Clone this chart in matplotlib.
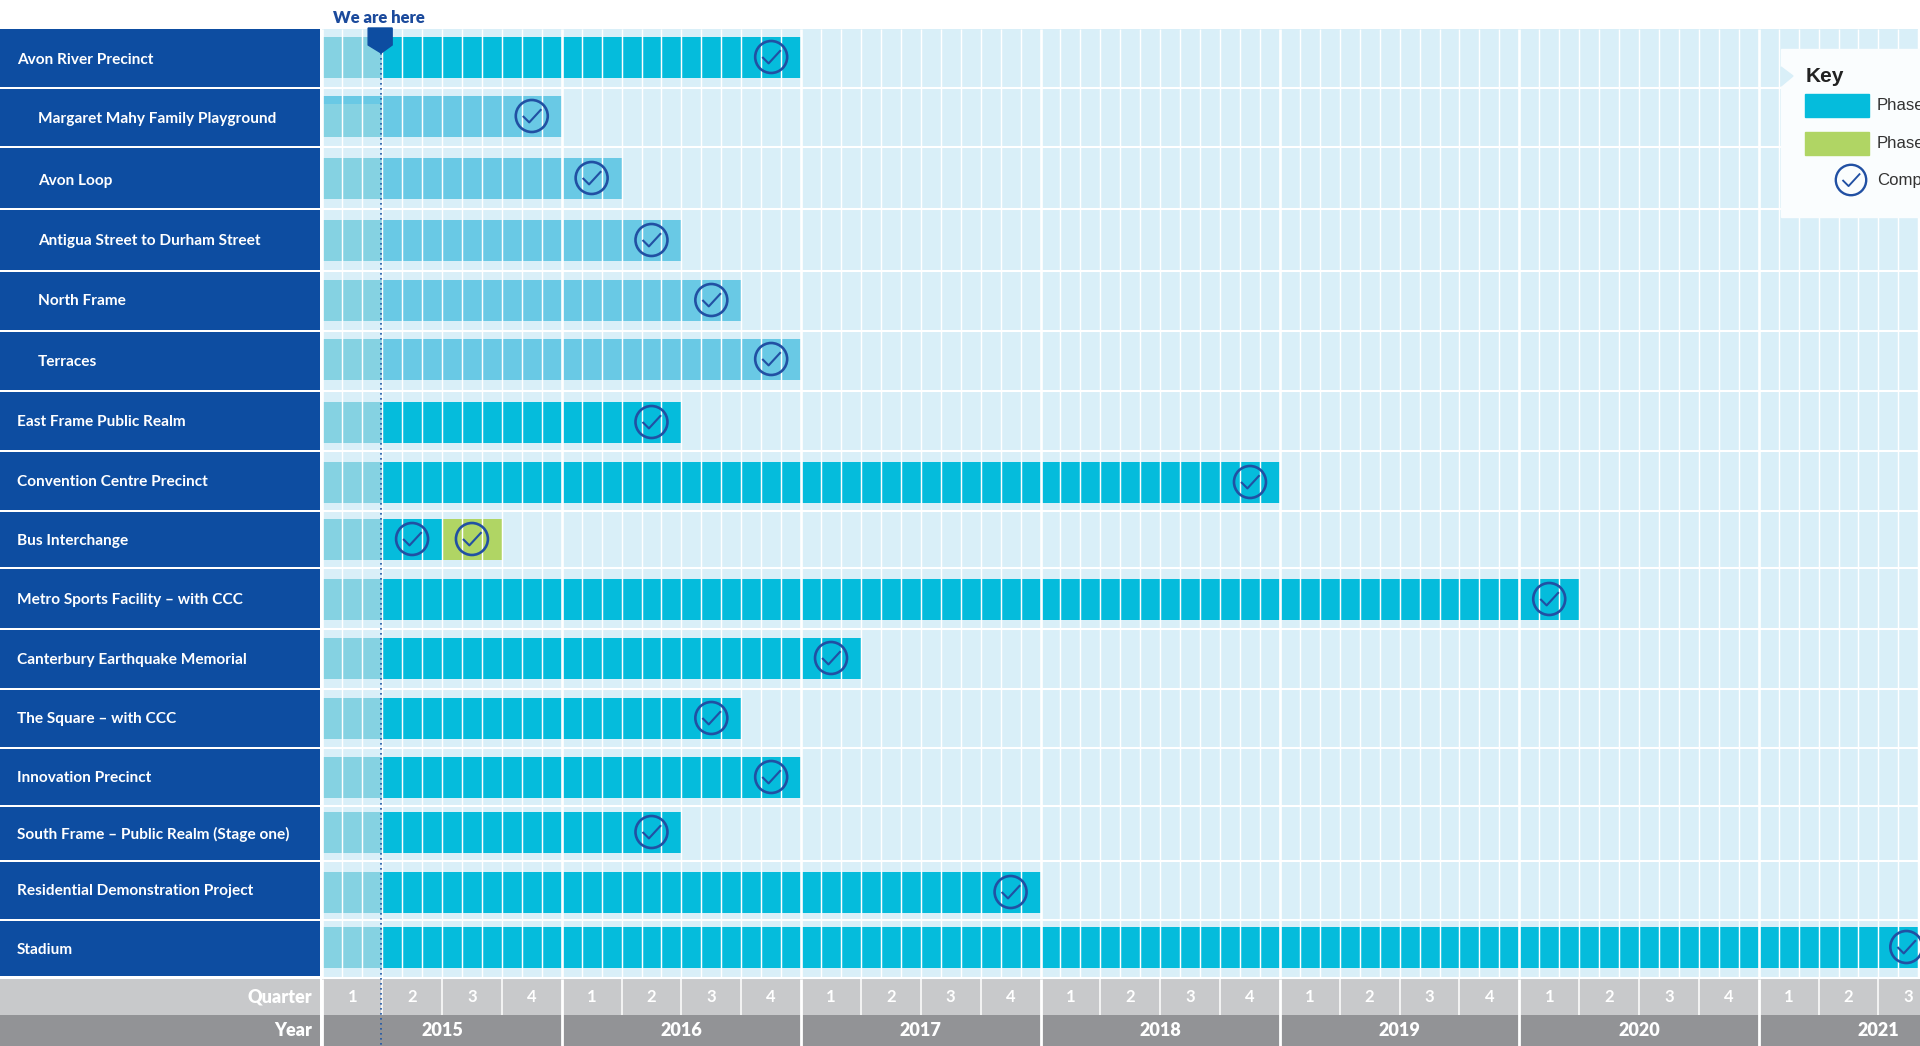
import matplotlib
matplotlib.use("Agg")
import matplotlib.pyplot as plt
from matplotlib.patches import Polygon, Rectangle
from matplotlib.path import Path

# projects, top to bottom
projects = ["Avon River Precinct", "Margaret Mahy Family Playground", "Avon Loop",
            "Antigua Street to Durham Street", "North Frame", "Terraces",
            "East Frame Public Realm", "Convention Centre Precinct", "Bus Interchange",
            "Metro Sports Facility – with CCC", "Canterbury Earthquake Memorial",
            "The Square – with CCC", "Innovation Precinct",
            "South Frame – Public Realm (Stage one)", "Residential Demonstration Project",
            "Stadium"]
is_sub = [0, 1, 1, 1, 1, 1, 0, 0, 0, 0, 0, 0, 0, 0, 0, 0]

# months since January 2015
phase1_end = [24, 12, 15, 18, 21, 24, 18, 48, 6, 63, 27, 21, 24, 18, 36, 80]
phase2_end = [0, 0, 0, 0, 0, 0, 0, 0, 9, 0, 0, 0, 0, 0, 0, 0]
complete_at = [22.5, 10.5, 13.5, 16.5, 19.5, 22.5, 16.5, 46.5, 4.5, 61.5, 25.5, 19.5, 22.5, 16.5, 34.5, 79.4]
extra_complete = [(8, 7.5)]
today = 2.95
past_end = 3

years = [2015, 2016, 2017, 2018, 2019, 2020, 2021]
quarters = [1, 2, 3, 4]
last_month = 80

# layout in figure pixels
row_edges = [29, 88, 147, 209, 271, 331, 391, 451, 511, 568, 629, 689, 748, 806, 861, 919.5, 977]
label_y = [60, 119, 181, 241, 301, 362, 422, 482, 541, 600, 660, 719, 778, 834, 891, 950]
bar_tops = [37, 96, 158, 220, 280, 339, 402, 462, 519, 579, 638, 698, 757, 812, 872, 927]
bar_h = 41
quarter_y = (979, 1015)
year_y = (1015, 1046)
x0_px = 322.3
month_px = 19.95

BLUE = "#0D4DA1"
CYAN = "#05BCDC"
SUB = "#69C9E5"
PAST = "#85D2E2"
PALE = "#D9EFF8"
GREEN = "#B0D564"
RING = "#2150A3"
GREY1 = "#C8C9CB"
GREY2 = "#929396"
LABEL_FONT = ["Lato", "DejaVu Sans"]

check = Path([(-0.42, 0.0), (-0.12, -0.3), (0.45, 0.32)], [Path.MOVETO, Path.LINETO, Path.LINETO])

fig = plt.figure(figsize=(19.2, 10.46), dpi=100)
ax = fig.add_axes([0, 0, 1, 1])
# x in months, y in pixels from the top
ax.set_xlim(-x0_px / month_px, (1920 - x0_px) / month_px)
ax.set_ylim(1046, 0)
ax.axis("off")
px = 1 / month_px


def draw_ring(x, y, size=530, lw=1.9, zorder=6):
    ax.scatter([x], [y], s=size, facecolors="none", edgecolors=RING, linewidths=lw, zorder=zorder)
    ax.scatter([x], [y], s=size * 0.36, marker=check, facecolors="none", edgecolors=RING, linewidths=lw * 0.8, zorder=zorder)


panel_left = ax.get_xlim()[0]
panel_w = 320 * px

# background grid
ax.barh(row_edges[0], last_month, height=row_edges[-1] - row_edges[0], left=0, align="edge", color=PALE, zorder=1)

for i, name in enumerate(projects):
    top, bottom = row_edges[i] + (1 if i else 0), row_edges[i + 1] - 1
    ax.barh(top, panel_w, height=bottom - top, left=panel_left, align="edge", color=BLUE, zorder=2)
    ax.text(panel_left + (38 if is_sub[i] else 17) * px, label_y[i], name, color="white",
            fontsize=11.05, fontweight="bold", family=LABEL_FONT, va="center", ha="left", zorder=3)

    y = bar_tops[i]
    ax.barh(y, past_end, height=bar_h, left=0, align="edge", color=PAST, zorder=2)
    fill = SUB if is_sub[i] else CYAN
    ax.barh(y, phase1_end[i] - past_end, height=bar_h, left=past_end, align="edge", color=fill, zorder=2)
    if phase2_end[i]:
        ax.barh(y, phase2_end[i] - phase1_end[i], height=bar_h, left=phase1_end[i], align="edge", color=GREEN, zorder=2)

ax.barh(bar_tops[1], past_end, height=8, left=0, align="edge", color=SUB, zorder=2)

# cell and row separators
for m in range(0, last_month + 1):
    lw = 1.9 if m % 12 == 0 else 1.05
    ax.vlines(m, row_edges[0], row_edges[-1], color="white", lw=lw, zorder=4)
ax.hlines(row_edges[1:-1], 0, last_month, color="white", lw=1.5, zorder=4)

# axis rows
for lo, hi, col in [(quarter_y[0], quarter_y[1], GREY1), (year_y[0], year_y[1], GREY2)]:
    ax.barh(lo, panel_w, height=hi - lo, left=panel_left, align="edge", color=col, zorder=2)
    ax.barh(lo, last_month + 1, height=hi - lo, left=0, align="edge", color=col, zorder=2)
ax.text(panel_left + 312 * px, sum(quarter_y) / 2, "Quarter", color="white", fontsize=13, fontweight="heavy",
        family=LABEL_FONT, ha="right", va="center", zorder=5)
ax.text(panel_left + 312 * px, sum(year_y) / 2, "Year", color="white", fontsize=13, fontweight="heavy",
        family=LABEL_FONT, ha="right", va="center", zorder=5)

for j, yr in enumerate(years):
    start = j * 12
    ax.vlines(start, quarter_y[0], year_y[1], color="white", lw=2.0, zorder=4)
    ax.text(start + 6, sum(year_y) / 2, str(yr), color="white", fontsize=13, fontweight="heavy",
            family=LABEL_FONT, ha="center", va="center", zorder=5)
    for k, q in enumerate(quarters):
        qx = start + k * 3
        if qx + 1.5 > last_month:
            continue
        if k:
            ax.vlines(qx, quarter_y[0], quarter_y[1], color="white", lw=1.1, zorder=4)
        ax.text(qx + 1.5, sum(quarter_y) / 2, str(q), color="white", fontsize=12, fontweight="bold",
                family=LABEL_FONT, ha="center", va="center", zorder=5)
ax.hlines(row_edges[-1] + 1, panel_left, last_month + 1, color="white", lw=1.5, zorder=3)

# completion rings
for i, c in enumerate(complete_at):
    draw_ring(c, bar_tops[i] + bar_h / 2 - 0.5)
for i, c in extra_complete:
    draw_ring(c, bar_tops[i] + bar_h / 2 - 0.5)

# today marker
ax.vlines(today, 53, 1046, color="#1F56A5", lw=1.2, linestyles=(0, (1, 2.0)), zorder=5)
ax.add_patch(Polygon([(today - 13 * px, 28), (today + 11 * px, 28), (today + 11 * px, 45), (today, 53), (today - 13 * px, 45)],
                     closed=True, color=BLUE, zorder=6))
ax.text(panel_left + 333 * px, 18, "We are here", color="#1B4A9C", fontsize=12, fontweight="heavy",
        family=LABEL_FONT, ha="left", va="center", zorder=6)

# key panel
key_x = lambda p: (p - x0_px) / month_px
ax.add_patch(Rectangle((key_x(1781), 49), 140 * px, 168, color="#FAFDFE", zorder=7))
ax.add_patch(Polygon([(key_x(1781), 67), (key_x(1793), 76), (key_x(1781), 86)], closed=True, color=PALE, zorder=8))
ax.text(key_x(1806), 76, "Key", color="#222222", fontsize=15, fontweight="bold", family="Liberation Sans",
        ha="left", va="center", zorder=8)
ax.add_patch(Rectangle((key_x(1805), 94), 64 * px, 23, color=CYAN, zorder=8))
ax.add_patch(Rectangle((key_x(1805), 132), 64 * px, 23, color=GREEN, zorder=8))
draw_ring(key_x(1851), 180, size=480, lw=1.7, zorder=8)
for y, label in [(105, "Phase"), (143, "Phase"), (181, "Comp")]:
    ax.text(key_x(1877), y, label, color="#333333", fontsize=12.1, family="Liberation Sans",
            ha="left", va="center", zorder=8)

fig.savefig("out.png", dpi=100)
